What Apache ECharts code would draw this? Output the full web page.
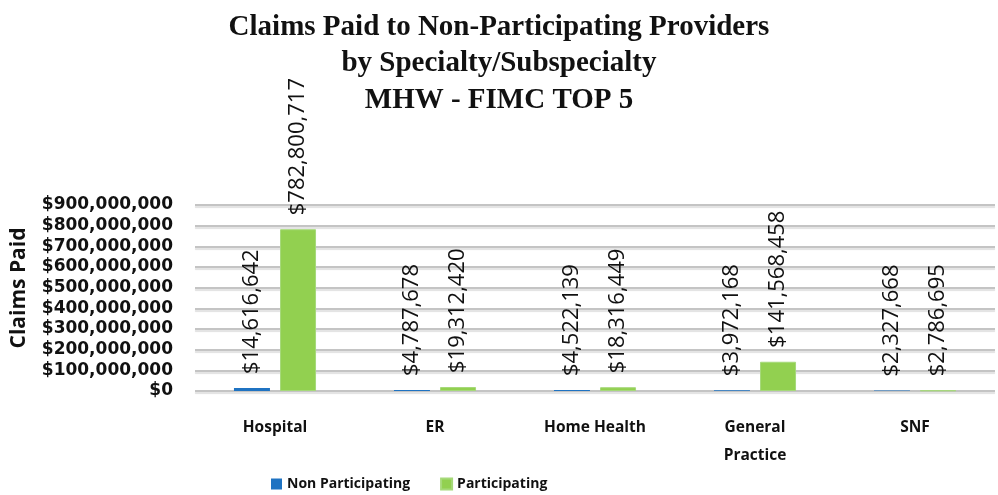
<!DOCTYPE html>
<html>
<head>
<meta charset="utf-8">
<script src="https://cdn.jsdelivr.net/npm/echarts@6/dist/echarts.min.js"></script>
<style>
  html, body { margin: 0; padding: 0; background: #fff; }
  #chart { width: 998px; height: 495px; }
</style>
</head>
<body>
<div id="chart"></div>
<script>
// chart data
var categories = ['Hospital', 'ER', 'Home Health', 'General\nPractice', 'SNF'];
var nonParticipating = [14616642, 4787678, 4522139, 3972168, 2327668];
var participating = [782800717, 19312420, 18316449, 141568458, 2786695];
var seriesNames = ['Non Participating', 'Participating'];

(function () {
    var chartDom = document.getElementById('chart');
    var chart = echarts.init(chartDom);

    function money(v) {
        return '$' + Math.round(v).toString().replace(/\B(?=(\d{3})+(?!\d))/g, ',');
    }

    var labelStyle = {
        show: true,
        position: 'top',
        rotate: 90,
        align: 'left',
        verticalAlign: 'middle',
        distance: 14,
        color: '#111',
        fontFamily: 'Open Sans',
        fontSize: 22,
        formatter: function (p) { return money(p.value); }
    };

    var option = {
        animation: false,
        title: {
            text: 'Claims Paid to Non-Participating Providers\nby Specialty/Subspecialty\nMHW - FIMC TOP 5',
            left: 'center',
            top: 4,
            textStyle: {
                fontFamily: 'Liberation Serif',
                fontWeight: 'bold',
                fontSize: 29,
                lineHeight: 36.5,
                color: '#111'
            }
        },
        legend: {
            data: seriesNames,
            left: 266,
            top: 472,
            itemWidth: 11,
            itemHeight: 11,
            itemGap: 30,
            icon: 'rect',
            textStyle: {
                fontFamily: 'Open Sans',
                fontWeight: 'bold',
                fontSize: 14,
                color: '#111'
            }
        },
        grid: {
            left: 195,
            right: 3,
            top: 205,
            bottom: 104
        },
        xAxis: {
            type: 'category',
            data: categories,
            axisLine: { show: false },
            axisTick: { show: false },
            axisLabel: {
                margin: 23,
                color: '#111',
                fontFamily: 'Open Sans',
                fontWeight: 'bold',
                fontSize: 15.5,
                lineHeight: 28,
                interval: 0
            }
        },
        yAxis: {
            type: 'value',
            min: 0,
            max: 900000000,
            interval: 100000000,
            name: 'Claims Paid',
            nameLocation: 'middle',
            nameGap: 165,
            nameTextStyle: {
                fontFamily: 'Open Sans',
                fontWeight: 'bold',
                fontSize: 21,
                color: '#111',
                padding: [0, 0, 0, 20]
            },
            axisLine: { show: false },
            axisTick: { show: false },
            axisLabel: {
                margin: 22,
                color: '#111',
                fontFamily: 'DejaVu Sans',
                fontWeight: 'bold',
                fontSize: 17,
                formatter: money
            },
            splitLine: {
                lineStyle: {
                    color: '#c4c4c4',
                    width: 2,
                    shadowColor: 'rgba(0,0,0,0.12)',
                    shadowOffsetY: 2,
                    shadowBlur: 1
                }
            }
        },
        series: [
            {
                name: seriesNames[0],
                type: 'bar',
                data: nonParticipating,
                barWidth: 36,
                barGap: '28%',
                itemStyle: { color: '#1f73c2' },
                label: labelStyle
            },
            {
                name: seriesNames[1],
                type: 'bar',
                data: participating,
                barWidth: 36,
                itemStyle: { color: '#92d050', borderColor: '#a6d97a', borderWidth: 1 },
                label: labelStyle
            }
        ]
    };

    chart.setOption(option);

    window.addEventListener('resize', function () {
        chart.resize();
    });
})();
</script>
</body>
</html>
